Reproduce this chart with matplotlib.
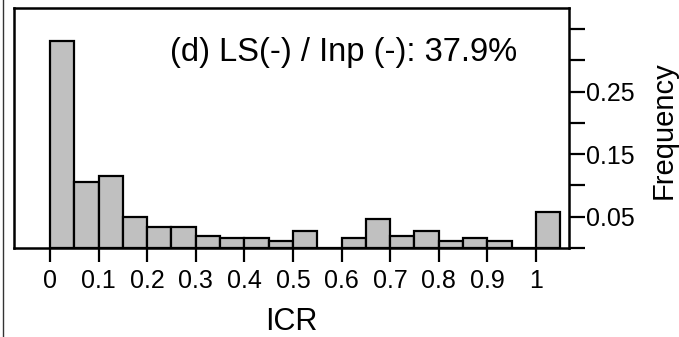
import numpy as np
import matplotlib
matplotlib.use("Agg")
import matplotlib.pyplot as plt
from matplotlib.lines import Line2D

plt.rcParams['font.family'] = ['Liberation Sans', 'DejaVu Sans']

# histogram of ICR, bin width 0.05 (left edges)
bin_edges = [0.00, 0.05, 0.10, 0.15, 0.20, 0.25, 0.30, 0.35, 0.40, 0.45, 0.50,
             0.55, 0.60, 0.65, 0.70, 0.75, 0.80, 0.85, 0.90, 0.95, 1.00]
freq = [0.331, 0.106, 0.115, 0.049, 0.033, 0.033, 0.019, 0.0155, 0.0155, 0.011,
        0.027, 0.0, 0.0155, 0.046, 0.019, 0.027, 0.011, 0.0155, 0.011, 0.0, 0.057]
bin_width = 0.05

x_ticks = [0, 0.1, 0.2, 0.3, 0.4, 0.5, 0.6, 0.7, 0.8, 0.9, 1.0]
x_ticklabels = ['0', '0.1', '0.2', '0.3', '0.4', '0.5', '0.6', '0.7', '0.8', '0.9', '1']
y_ticks = [0, 0.05, 0.1, 0.15, 0.2, 0.25, 0.3, 0.35]
y_ticklabels = ['', '0.05', '', '0.15', '', '0.25', '', '']
annotation = "(d) LS(-) / Inp (-): 37.9%"

W, H = 679, 337
fig = plt.figure(figsize=(W / 100, H / 100), dpi=100)
ax = fig.add_axes([14 / W, 1 - 248 / H, (569 - 14) / W, 240 / H])

ax.bar(bin_edges, freq, width=bin_width, align='edge', color='#c0c0c0',
       edgecolor='black', linewidth=1.6, zorder=2)

ax.set_xlim(-36 / 486, 519 / 486)
ax.set_ylim(0, 240 / 626)

for s in ax.spines.values():
    s.set_linewidth(1.8)
    s.set_zorder(3)

ax.set_xticks(x_ticks)
ax.set_xticklabels(x_ticklabels, fontsize=18)
ax.tick_params(axis='x', direction='out', length=10, width=1.6, pad=5)

ax.yaxis.tick_right()
ax.set_yticks(y_ticks)
ax.set_yticklabels(y_ticklabels, fontsize=18)
ax.tick_params(axis='y', direction='out', length=11.5, width=1.6, pad=1)

fig.text(170 / W, 1 - 61 / H, annotation, fontsize=23.5, va='baseline', ha='left')
fig.text(291 / W, 1 - 330 / H, 'ICR', fontsize=22, va='baseline', ha='center')
fig.text(664 / W, 1 - 130 / H, 'Frequency', fontsize=21, rotation=90,
         va='center', ha='center')

# edge of the neighbouring panel
fig.add_artist(Line2D([2.5 / W, 2.5 / W], [0, 1], color='#333333', linewidth=1,
                      transform=fig.transFigure))

fig.savefig('out.png', dpi=100)
